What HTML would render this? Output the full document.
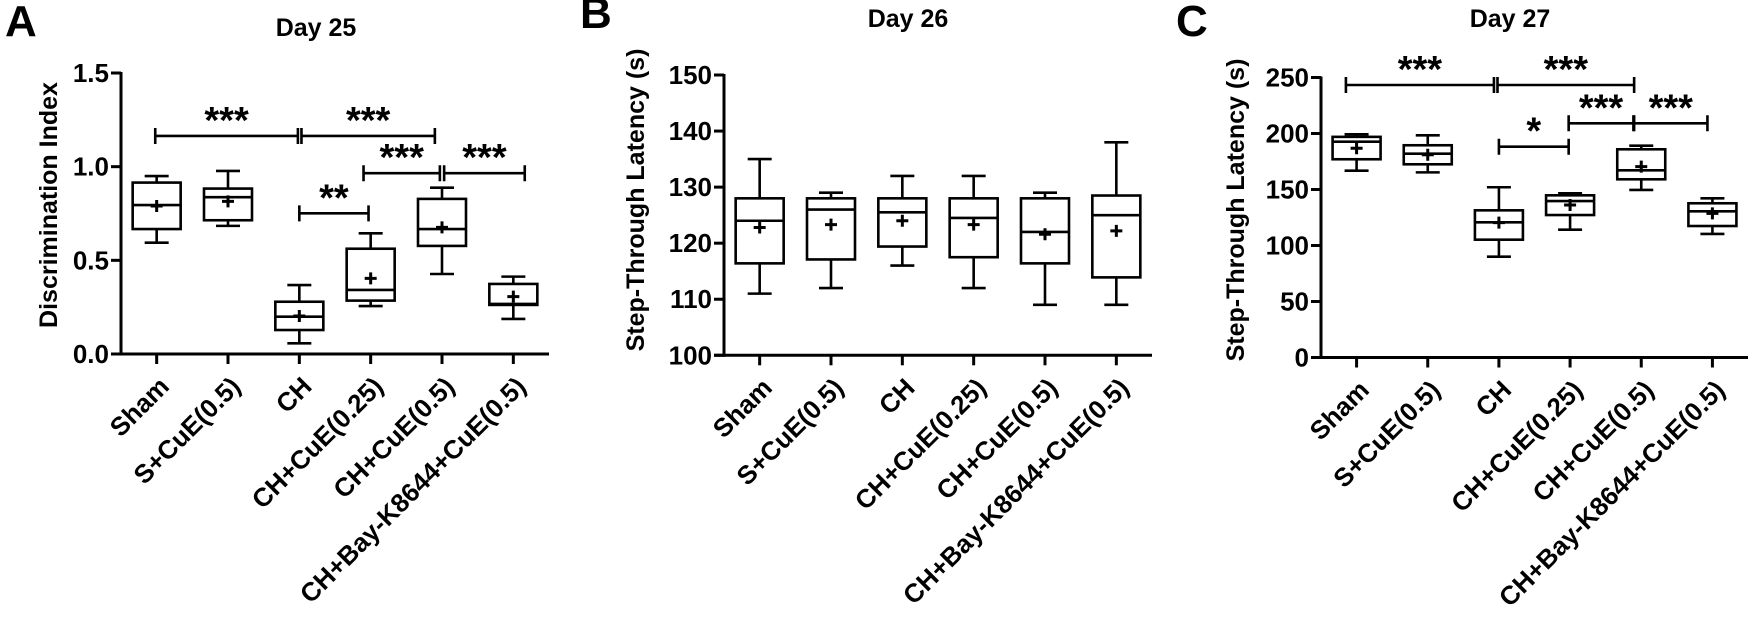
<!DOCTYPE html>
<html><head><meta charset="utf-8">
<style>
html,body{margin:0;padding:0;background:#fff;}
svg{display:block;font-family:"Liberation Sans",Arial,sans-serif;font-weight:bold;}
</style></head>
<body>
<svg id="fig" width="1748" height="617" viewBox="0 0 1748 617" xmlns="http://www.w3.org/2000/svg"></svg>
<script>
const categories = ["Sham","S+CuE(0.5)","CH","CH+CuE(0.25)","CH+CuE(0.5)","CH+Bay-K8644+CuE(0.5)"];

// Panel A: Discrimination Index
const aMax = [0.95,0.977,0.368,0.644,0.888,0.413];
const aQ3 = [0.915,0.883,0.279,0.562,0.828,0.374];
const aMed = [0.795,0.837,0.199,0.342,0.667,0.267];
const aQ1 = [0.667,0.714,0.128,0.285,0.577,0.262];
const aMin = [0.594,0.684,0.057,0.256,0.427,0.187];
const aMean = [0.79,0.815,0.203,0.404,0.676,0.306];
const aTicks = [0,0.5,1.0,1.5];
const aTickLabels = ["0.0","0.5","1.0","1.5"];
const aBrFrom = [-0.02,2.03,2.0,2.9,4.03];
const aBrTo = [1.98,3.9,2.97,3.97,5.16];
const aBrY = [1.164,1.164,0.751,0.965,0.965];
const aBrLbl = ["***","***","**","***","***"];

// Panel B: Step-Through Latency day 26
const bMax = [135,129,132,132,129,138];
const bQ3 = [128,128,128,128,128,128.5];
const bMed = [124,126,125.5,124.5,122,125];
const bQ1 = [116.4,117.1,119.4,117.5,116.4,113.9];
const bMin = [111,112,116,112,109,109];
const bMean = [122.8,123.3,124,123.3,121.6,122.2];
const bTicks = [100,110,120,130,140,150];
const bTickLabels = ["100","110","120","130","140","150"];

// Panel C: Step-Through Latency day 27
const cMax = [199.3,198.4,152,146.6,189.1,142.1];
const cQ3 = [197,189.5,131.4,144.8,185.9,137.7];
const cMed = [192.7,182,120.7,139.7,167.1,130.5];
const cQ1 = [177,172.5,105.2,127.2,159.1,117.4];
const cMin = [166.8,165.3,90,114.1,149.6,110.3];
const cMean = [186.8,181,120.4,136.2,170.4,128.7];
const cTicks = [0,50,100,150,200,250];
const cTickLabels = ["0","50","100","150","200","250"];
const cBrFrom = [-0.15,1.98,2.0,2.98,3.9];
const cBrTo = [1.93,3.9,2.98,3.89,4.93];
const cBrY = [243.3,243.3,188.2,209.1,209.1];
const cBrLbl = ["***","***","*","***","***"];

const NS="http://www.w3.org/2000/svg";
const svg=document.getElementById('fig');
function el(tag,attrs,parent,txt){const e=document.createElementNS(NS,tag);for(const k in attrs)e.setAttribute(k,attrs[k]);if(txt!==undefined)e.textContent=txt;(parent||svg).appendChild(e);return e;}

function panel(cfg){
  const g=el('g',{});
  
  
  const bw=(cfg.x1-cfg.x0)/categories.length;
  const X=i=>cfg.x0+bw*(i+0.5);
  const Y=v=>cfg.yBase-(v-cfg.vMin)/(cfg.vMax-cfg.vMin)*(cfg.yBase-cfg.yTop);
  const letter=el('text',{x:cfg.letterX,y:cfg.letterY,'font-size':44},g,cfg.letter);
  
  
  const title=el('text',{x:cfg.titleX,y:cfg.titleY,'font-size':25,'text-anchor':'middle'},g,cfg.title);
  
  
  const yt=el('text',{x:0,y:0,'font-size':25,'text-anchor':'middle',transform:`translate(${cfg.yTitleX},${cfg.yTitleY}) rotate(-90)`},g,cfg.yTitle);
  
  
  const ya=el('line',{x1:cfg.x0,y1:Y(cfg.vMax)-1,x2:cfg.x0,y2:cfg.yBase+1.5,stroke:'#000','stroke-width':3},g);
  
  
  const xa=el('line',{x1:cfg.x0-10,y1:cfg.yBase,x2:cfg.x1,y2:cfg.yBase,stroke:'#000','stroke-width':3},g);
  
  
  cfg.ticks.forEach((t,i)=>{
    const tl=el('line',{x1:cfg.x0-10,y1:Y(t),x2:cfg.x0,y2:Y(t),stroke:'#000','stroke-width':3},g);
    
    
    const tt=el('text',{x:cfg.x0-12,y:Y(t)+9,'font-size':26,'text-anchor':'end'},g,cfg.tickLabels[i]);
    
    
  });
  categories.forEach((c,i)=>{
    const x=X(i);
    const tk=el('line',{x1:x,y1:cfg.yBase,x2:x,y2:cfg.yBase+10,stroke:'#000','stroke-width':3},g);
    
    
    const lb=el('text',{x:0,y:0,'font-size':26,'text-anchor':'end',transform:`translate(${x+14},${cfg.yBase+34}) rotate(-45)`},g,c);
    
    
    const bg=el('g',{stroke:'#000','stroke-width':2.6,fill:'none'},g);
    
    
    const hw=24, cw=12;
    el('line',{x1:x,y1:Y(cfg.max[i]),x2:x,y2:Y(cfg.q3[i])},bg);
    el('line',{x1:x,y1:Y(cfg.q1[i]),x2:x,y2:Y(cfg.min[i])},bg);
    el('line',{x1:x-cw,y1:Y(cfg.max[i]),x2:x+cw,y2:Y(cfg.max[i])},bg);
    el('line',{x1:x-cw,y1:Y(cfg.min[i]),x2:x+cw,y2:Y(cfg.min[i])},bg);
    el('rect',{x:x-hw,y:Y(cfg.q3[i]),width:2*hw,height:Y(cfg.q1[i])-Y(cfg.q3[i])},bg);
    el('line',{x1:x-hw,y1:Y(cfg.med[i]),x2:x+hw,y2:Y(cfg.med[i])},bg);
    const m=Y(cfg.mean[i]);
    const mk=el('path',{d:`M${x-6},${m}H${x+6}M${x},${m-6}V${m+6}`,'stroke-width':3},bg);
    
    
  });
  if(cfg.brFrom){
    cfg.brFrom.forEach((f,i)=>{
      const xa=X(f), xb=X(cfg.brTo[i]), y=Y(cfg.brY[i]);
      const bg=el('g',{stroke:'#000','stroke-width':2.6,fill:'none'},g);
      
      
      el('path',{d:`M${xa},${y-8}V${y+8}M${xb},${y-8}V${y+8}M${xa},${y}H${xb}`},bg);
      const st=el('text',{x:(xa+xb)/2,y:y-3,'font-size':38,'text-anchor':'middle'},g,cfg.brLbl[i]);
      
      
    });
  }
}

panel({name:'panel-a',letter:'A',letterX:5,letterY:36,title:'Day 25',titleX:316,titleY:36,
  yTitle:'Discrimination Index',yTitleX:57,yTitleY:205,
  x0:121,x1:549,yBase:354,yTop:73,vMin:0,vMax:1.5,ticks:aTicks,tickLabels:aTickLabels,
  max:aMax,q3:aQ3,med:aMed,q1:aQ1,min:aMin,mean:aMean,brFrom:aBrFrom,brTo:aBrTo,brY:aBrY,brLbl:aBrLbl});
panel({name:'panel-b',letter:'B',letterX:580,letterY:28,title:'Day 26',titleX:908,titleY:27,
  yTitle:'Step-Through Latency (s)',yTitleX:644,yTitleY:200,
  x0:724,x1:1152,yBase:355.3,yTop:75,vMin:100,vMax:150,ticks:bTicks,tickLabels:bTickLabels,
  max:bMax,q3:bQ3,med:bMed,q1:bQ1,min:bMin,mean:bMean});
panel({name:'panel-c',letter:'C',letterX:1176,letterY:36,title:'Day 27',titleX:1510,titleY:27,
  yTitle:'Step-Through Latency (s)',yTitleX:1244,yTitleY:210,
  x0:1321,x1:1748,yBase:357.5,yTop:77.5,vMin:0,vMax:250,ticks:cTicks,tickLabels:cTickLabels,
  max:cMax,q3:cQ3,med:cMed,q1:cQ1,min:cMin,mean:cMean,brFrom:cBrFrom,brTo:cBrTo,brY:cBrY,brLbl:cBrLbl});
</script>
</body></html>
